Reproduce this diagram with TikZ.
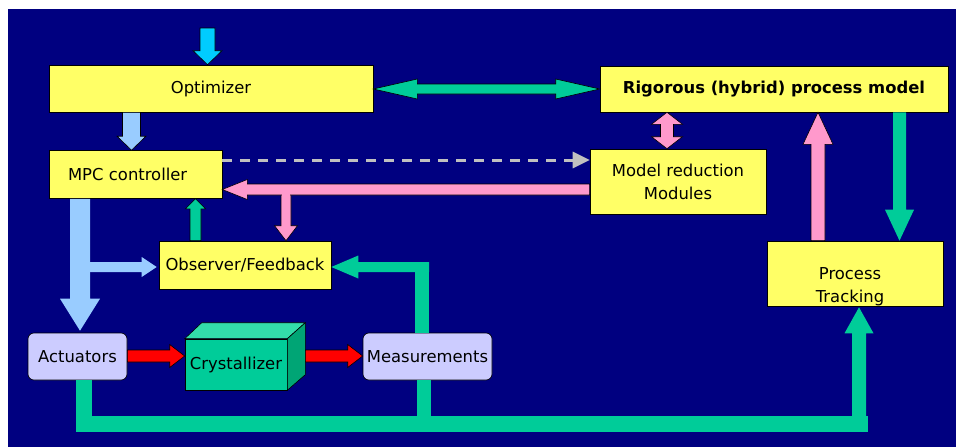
\documentclass[tikz,border=0pt]{standalone}
\usepackage{fontspec}
\setmainfont{DejaVu Sans}
\usetikzlibrary{calc,arrows.meta}
\definecolor{navyc}{HTML}{000080}
\definecolor{yellowc}{HTML}{FFFF66}
\definecolor{cyanc}{HTML}{00CCFF}
\definecolor{lblue}{HTML}{99CCFF}
\definecolor{greenc}{HTML}{00CC99}
\definecolor{pinkc}{HTML}{FF99CC}
\definecolor{redc}{HTML}{FF0000}
\definecolor{lavc}{HTML}{CCCCFF}
\definecolor{greyc}{HTML}{C0C0C0}
\definecolor{crytop}{HTML}{33DDAA}
\definecolor{cryside}{HTML}{00A575}
\newcommand\barrow[6]{%
  \coordinate (bS) at (#2); \coordinate (bT) at (#3);
  \coordinate (bB) at ($(bT)!#6!(bS)$);
  \path[#1] ($(bS)!#4!90:(bT)$) -- ($(bB)!#4!90:(bT)$) -- ($(bB)!#5!90:(bT)$) -- (bT)
    -- ($(bB)!#5!-90:(bT)$) -- ($(bB)!#4!-90:(bT)$) -- ($(bS)!#4!-90:(bT)$) -- cycle;}
\newcommand\dbarrow[6]{%
  \coordinate (bS) at (#2); \coordinate (bT) at (#3);
  \coordinate (bB) at ($(bT)!#6!(bS)$); \coordinate (bA) at ($(bS)!#6!(bT)$);
  \path[#1] (bS) -- ($(bA)!#5!90:(bT)$) -- ($(bA)!#4!90:(bT)$) -- ($(bB)!#4!90:(bT)$)
    -- ($(bB)!#5!90:(bT)$) -- (bT) -- ($(bB)!#5!-90:(bT)$) -- ($(bB)!#4!-90:(bT)$)
    -- ($(bA)!#4!-90:(bT)$) -- ($(bA)!#5!-90:(bT)$) -- cycle;}
\tikzset{
  blk/.style={fill=#1, draw=black, line width=0.6pt, line join=miter},
  flat/.style={fill=#1},
  ybox/.style={draw=black, line width=0.6pt, fill=yellowc, rectangle, inner sep=2pt},
  lbox/.style={draw=black, line width=0.6pt, fill=lavc, rectangle, rounded corners=6pt, inner sep=2pt},
  twoline/.style={align=center, font=\fontsize{16.4}{23}\selectfont},
}
\begin{document}
\begin{tikzpicture}[x=1pt,y=-1pt, font=\fontsize{16.4}{19}\selectfont]
\useasboundingbox (0,0) rectangle (956,447);
\fill[white] (0,0) rectangle (956,447);
\fill[navyc] (8,9) rectangle (956,447);

% boxes
\node[ybox, minimum width=324pt, minimum height=47pt] (opt) at (211,88.5) {Optimizer};
\node[ybox, minimum width=173pt, minimum height=48pt, text width=135pt, align=left] (mpc) at (135.5,174.5) {MPC controller};
\node[ybox, twoline, minimum width=176pt, minimum height=65pt] (mod) at (678,181.5) {Model reduction\\Modules};
\node[ybox, minimum width=348pt, minimum height=46pt, font=\fontsize{16.4}{19}\selectfont\bfseries] (rig) at (774,89) {Rigorous (hybrid) process model};
\node[ybox, minimum width=172pt, minimum height=48pt] (obs) at (245,265) {Observer/Feedback};
\node[ybox, minimum width=176pt, minimum height=65pt,
  label={[twoline, xshift=-5pt, yshift=-13pt]center:Process\\Tracking}] (trk) at (855,273.5) {};
\node[lbox, minimum width=99pt, minimum height=47pt] (act) at (77.5,356.5) {Actuators};
\node[lbox, minimum width=129pt, minimum height=47pt] (mea) at (427.5,356.5) {Measurements};
\node[draw=black, line width=0.6pt, fill=greenc, minimum width=102pt, minimum height=51pt, inner sep=1pt] (cry) at (236,364.5) {Crystallizer};
\coordinate (crb) at ($(cry.north east)+(18,-16)$);
\filldraw[fill=crytop, draw=black, line width=0.6pt, line join=miter]
  (cry.north west) -- ++(17,-16) -- (crb) -- (cry.north east) -- cycle;
\filldraw[fill=cryside, draw=black, line width=0.6pt, line join=miter]
  (cry.north east) -- (crb) -- ($(crb)+(0,52)$) -- (cry.south east) -- cycle;

% top input
\coordinate (cyTop) at (207.5,28);
\barrow{blk=cyanc}{cyTop}{cyTop |- opt.north}{7.5pt}{14.5pt}{14pt}
% optimizer -> MPC
\coordinate (ob) at (131.5,0);
\barrow{blk=lblue}{ob |- opt.south}{ob |- mpc.north}{9pt}{14.5pt}{14pt}
% dashed MPC -> model reduction
\coordinate (dy) at (0,160);
\draw[greyc, line width=3pt, dash pattern=on 10pt off 8pt, -{Triangle[length=17pt,width=16pt]}]
  (mpc.east |- dy) -- (mod.west |- dy);
% optimizer <-> rigorous
\coordinate (gy) at (0,89);
\dbarrow{blk=greenc}{opt.east |- gy}{rig.west |- gy}{5pt}{10pt}{44pt}
% rigorous <-> model reduction
\coordinate (px) at (667,0);
\dbarrow{blk=pinkc}{px |- rig.south}{px |- mod.north}{6.5pt}{15.5pt}{12pt}
% model reduction -> MPC, branch to observer
\coordinate (py) at (0,189.5);
\coordinate (pb) at (286,189.5);
\barrow{blk=pinkc}{pb}{pb |- obs.north}{5pt}{11.5pt}{15pt}
\barrow{blk=pinkc}{mod.west |- py}{mpc.east |- py}{5.5pt}{10pt}{25pt}
\fill[pinkc] ($(pb)+(-4.4,0)$) rectangle ($(pb)+(4.4,7)$);
% observer -> MPC
\coordinate (gx) at (195.5,0);
\barrow{blk=greenc}{gx |- obs.north}{gx |- mpc.south}{5.5pt}{10pt}{10pt}
% MPC -> actuators, branch to observer
\coordinate (lx) at (80,0);
\barrow{flat=lblue}{lx |- mpc.south}{$(lx |- act.north)+(0,-2)$}{10pt}{20pt}{32pt}
\coordinate (ly) at (88,267);
\barrow{flat=lblue}{ly}{$(obs.west |- ly)+(-2,0)$}{5pt}{10pt}{15pt}
% red process arrows
\coordinate (ry) at (0,356);
\barrow{blk=redc}{act.east |- ry}{cry.west |- ry}{6pt}{11.5pt}{15pt}
\barrow{blk=redc}{crb |- ry}{mea.west |- ry}{6pt}{11.5pt}{15pt}
% measurements -> observer
\coordinate (gm) at (422,267);
\draw[greenc, line width=14pt] (gm |- mea.north) -- ($(gm)+(0,-5)$);
\barrow{flat=greenc}{$(gm)+(7,0)$}{obs.east |- gm}{5pt}{11.5pt}{27pt}
% bottom loop to process tracking
\coordinate (ax) at (84,0);
\coordinate (mx) at (424,0);
\coordinate (tx) at (859,0);
\draw[greenc, line width=16pt, line join=miter] (ax |- act.south) -- (84,424) -- (868,424);
\draw[greenc, line width=14pt] (mx |- mea.south) -- (424,424);
\barrow{flat=greenc}{859,431}{$(tx |- trk.south)+(0,1)$}{7pt}{14.5pt}{26pt}
% process tracking -> rigorous
\coordinate (pu) at (818,0);
\barrow{blk=pinkc}{pu |- trk.north}{pu |- rig.south}{7pt}{15pt}{32pt}
% rigorous -> process tracking
\coordinate (gd) at (899.5,0);
\barrow{flat=greenc}{gd |- rig.south}{gd |- trk.north}{6.5pt}{14.5pt}{31pt}
\end{tikzpicture}
\end{document}
